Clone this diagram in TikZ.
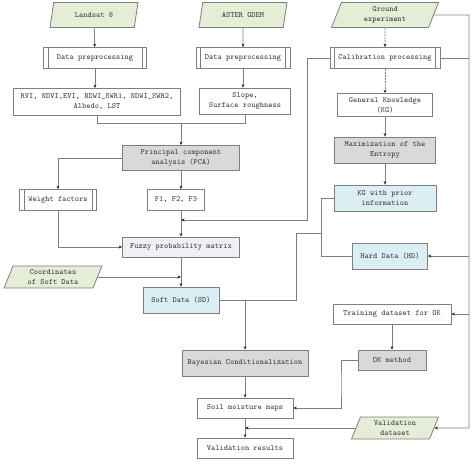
\documentclass[tikz,border=0pt]{standalone}
\usepackage{fontspec}
\usetikzlibrary{shapes.geometric,arrows.meta,calc}
\definecolor{lgreen}{HTML}{E5EDD7}
\definecolor{lgray}{HTML}{D9D9D9}
\definecolor{lblue}{HTML}{DAEEF3}
\definecolor{llav}{HTML}{F2EEF5}
\definecolor{bord}{HTML}{7F7F7F}
\definecolor{txt}{HTML}{3A3A3A}
\tikzset{
  base/.style={draw=bord, line width=0.8pt, text=txt, align=center, inner sep=1pt,
    font=\ttfamily\fontsize{8}{10}\selectfont},
  box/.style={base, rectangle, minimum width=#1},
  proc/.style={base, rectangle, minimum width=#1, minimum height=21,
    path picture={
      \draw[bord, line width=0.8pt] ([xshift=4.5pt]path picture bounding box.north west) -- ([xshift=4.5pt]path picture bounding box.south west);
      \draw[bord, line width=0.8pt] ([xshift=-4.5pt]path picture bounding box.north east) -- ([xshift=-4.5pt]path picture bounding box.south east);
    }},
  para/.style={base, trapezium, trapezium left angle=62, trapezium right angle=118,
    trapezium stretches body, fill=lgreen, minimum width=#1},
  arr/.style={draw=bord, line width=0.8pt, -{Stealth[length=3.5pt,width=3pt,color=black!85]}},
  ln/.style={draw=bord, line width=0.8pt},
}
\begin{document}
\begin{tikzpicture}[x=1pt,y=-1pt]
\useasboundingbox (0,0) rectangle (474,465);
% row 1
\node[para=88, minimum height=25] (landsat) at (94,15) {Landsat 8};
\node[para=88, minimum height=25] (aster) at (243,15) {ASTER GDEM};
\node[para=107, minimum height=25] (ground) at (385,15) {Ground\\experiment};
% row 2
\node[proc=103] (dpl) at (95,58) {Data preprocessing};
\node[proc=94] (dpr) at (243,58) {Data preprocessing};
\node[proc=110] (cal) at (385,58) {Calibration processing};
% row 3
\node[box=167, minimum height=27] (idx) at (97,102) {RVI, NDVI,EVI, NDWI\_SWR1, NDWI\_SWR2,\\Albedo, LST};
\node[box=91, minimum height=26] (slope) at (245,101) {Slope,\\Surface roughness};
\node[box=95, minimum height=23] (gk) at (385,105) {General Knowledge\\(KG)};
% row 4
\node[box=117, minimum height=25, fill=lgray] (pca) at (181,158) {Principal component\\analysis (PCA)};
\node[box=101, minimum height=26, fill=lgray] (maxe) at (385,150) {Maximization of the\\Entropy};
% row 5
\node[proc=77] (wf) at (58,200) {Weight factors};
\node[box=57, minimum height=21] (f123) at (176,200) {F1, F2, F3};
\node[box=102, minimum height=26, fill=lblue] (kgp) at (385,198) {KG with prior\\information};
% row 6
\node[box=117, minimum height=20, fill=llav] (fuzzy) at (181,247) {Fuzzy probability matrix};
\node[box=75, minimum height=26, fill=lblue] (hd) at (390,256) {Hard Data (HD)};
% row 7
\node[para=98, minimum height=22] (coord) at (53,277) {Coordinates\\of Soft Data};
\node[box=76, minimum height=26, fill=lblue] (sd) at (181,300) {Soft Data (SD)};
\node[box=118, minimum height=20] (train) at (392,314) {Training dataset for OK};
% row 8
\node[box=126, minimum height=26, fill=lgray] (bayes) at (245,363) {Bayesian Conditionalization};
\node[box=68, minimum height=20, fill=lgray] (okm) at (392,360) {OK method};
% row 9
\node[box=96, minimum height=20] (soil) at (245,408) {Soil moisture maps};
\node[para=87, minimum height=22] (vds) at (395,428) {Validation\\dataset};
\node[box=96, minimum height=20] (vres) at (245,448) {Validation results};
% helper coordinates
\coordinate (m1) at (181,123);
\coordinate (c1) at (307,220);
\coordinate (j1) at (181,220);
\coordinate (bx) at (321,0);
\coordinate (b1) at (321,233);
\coordinate (b2) at (296,233);
\coordinate (bus) at (469,428);
\coordinate (okx) at (341,384);
% connectors
\draw[arr] (landsat) -- (dpl);
\draw[arr] (aster) -- (dpr);
\draw[arr, dash pattern=on 2pt off 1pt] (ground) -- (cal);
\draw[arr] (dpl.south) -- (dpl.south |- idx.north);
\draw[arr] (dpr.south) -- (dpr.south |- slope.north);
\draw[arr, dash pattern=on 2pt off 1pt] (cal) -- (gk);
\draw[arr] (gk) -- (maxe);
\draw[arr] (maxe) -- (kgp);
\draw[ln] (idx.south) |- (m1);
\draw[ln] (slope.south) |- (m1);
\draw[arr] (m1) -- (pca.north);
\draw[arr] (pca.west) -| (wf.north);
\draw[arr] (pca.south) -- (pca.south |- f123.north);
\draw[arr] (pca.south |- f123.south) -- (fuzzy.north);
\draw[arr] (cal.west) -| (c1) -- (j1);
\draw[arr] (wf.south) |- (fuzzy.west);
\draw[arr] (fuzzy.south) -- (sd.north);
\draw[arr] (coord.east) -- (coord.east -| sd.north);
\draw[ln] (kgp.west) -- (kgp.west -| bx) |- (hd.west);
\draw[ln] (b1) -- (b2) |- (sd.east);
\draw[arr] (sd.east -| bayes.north) -- (bayes.north);
\draw[arr] (ground.east) -| (bus) -- (vds.east);
\draw[ln] (cal.east) -- (cal.east -| bus);
\draw[arr] (hd.east -| bus) -- (hd.east);
\draw[arr] (train.east -| bus) -- (train.east);
\draw[arr] (train) -- (okm);
\draw[arr] (okm.west) -| (okx) |- (soil.east);
\draw[arr] (bayes) -- (soil);
\draw[arr] (soil) -- (vres);
\draw[arr] (vds.west) -- (vds.west -| soil.south);
\end{tikzpicture}
\end{document}
